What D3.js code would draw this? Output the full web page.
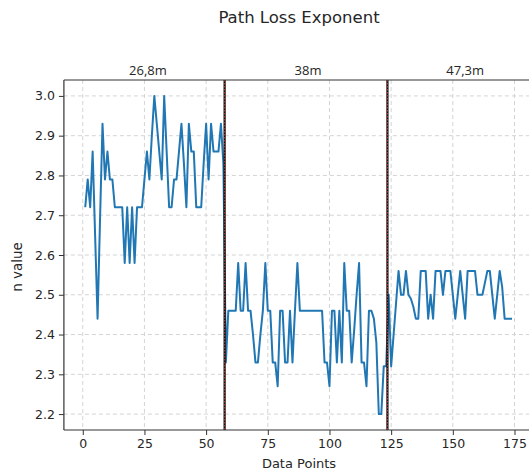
<!DOCTYPE html>
<html>
<head>
<meta charset="utf-8">
<script src="https://cdn.jsdelivr.net/npm/d3@7"></script>
<style>
  html, body { margin: 0; padding: 0; background: #fff; }
  svg { display: block; }
</style>
</head>
<body>
<svg id="chart" width="529" height="470"></svg>
<script>
// ---- data ----
const segmentLabels = ["26,8m", "38m", "47,3m"];
const segmentLabelAt = [26.4, 91.3, 155];
const segmentBounds = [57.5, 123.5];
const xTickValues = [0, 25, 50, 75, 100, 125, 150, 175];
const yTickValues = [2.2, 2.3, 2.4, 2.5, 2.6, 2.7, 2.8, 2.9, 3.0];
const nValues = [
  // 1..57  (26,8m)
  2.72, 2.79, 2.72, 2.86, 2.65, 2.44, 2.69, 2.93, 2.79, 2.86,
  2.79, 2.79, 2.72, 2.72, 2.72, 2.72, 2.58, 2.72, 2.58, 2.72,
  2.58, 2.72, 2.72, 2.72, 2.79, 2.86, 2.79, 2.90, 3.00, 2.93,
  2.86, 2.79, 3.00, 2.86, 2.72, 2.72, 2.79, 2.79, 2.86, 2.93,
  2.83, 2.72, 2.93, 2.86, 2.86, 2.72, 2.72, 2.72, 2.83, 2.93,
  2.79, 2.93, 2.86, 2.86, 2.86, 2.93, 2.83,
  // 58..123 (38m)
  2.33, 2.46, 2.46, 2.46, 2.46, 2.58, 2.46, 2.46, 2.58, 2.46,
  2.46, 2.40, 2.33, 2.33, 2.40, 2.46, 2.58, 2.46, 2.46, 2.33,
  2.33, 2.27, 2.46, 2.46, 2.33, 2.33, 2.46, 2.33, 2.46, 2.58,
  2.46, 2.46, 2.46, 2.46, 2.46, 2.46, 2.46, 2.46, 2.46, 2.46,
  2.33, 2.33, 2.27, 2.46, 2.46, 2.33, 2.46, 2.33, 2.58, 2.46,
  2.46, 2.33, 2.41, 2.50, 2.58, 2.33, 2.33, 2.27, 2.46, 2.46,
  2.44, 2.38, 2.20, 2.20, 2.32, 2.32,
  // 124..174 (47,3m)
  2.50, 2.32, 2.40, 2.48, 2.56, 2.50, 2.50, 2.56, 2.50, 2.49,
  2.47, 2.44, 2.44, 2.56, 2.56, 2.56, 2.44, 2.50, 2.44, 2.56,
  2.56, 2.56, 2.50, 2.56, 2.56, 2.56, 2.50, 2.44, 2.50, 2.56,
  2.50, 2.44, 2.56, 2.56, 2.56, 2.56, 2.50, 2.50, 2.50, 2.53,
  2.56, 2.56, 2.50, 2.44, 2.50, 2.56, 2.52, 2.44, 2.44, 2.44,
  2.44
];
const points = nValues.map((v, i) => ({ x: i + 1, y: v }));

// ---- layout ----
const svg = d3.select("#chart");
const plotLeft = 63.9, plotTop = 80, plotBottom = 430;
const xExt = d3.extent(points, d => d.x);
const xPad = (xExt[1] - xExt[0]) * 0.05;
const yExt = d3.extent(points, d => d.y);
const yPad = (yExt[1] - yExt[0]) * 0.05;
const pxPerUnit = 2.467;
const plotRight = plotLeft + (xExt[1] - xExt[0] + 2 * xPad) * pxPerUnit;

const x = d3.scaleLinear().domain([xExt[0] - xPad, xExt[1] + xPad]).range([plotLeft, plotRight]);
const y = d3.scaleLinear().domain([yExt[0] - yPad, yExt[1] + yPad]).range([plotBottom, plotTop]);

const font = "DejaVu Sans, sans-serif";
const textColor = "#262626";

// grid
const grid = svg.append("g");
grid.selectAll("line.gx").data(xTickValues).join("line")
  .attr("x1", d => x(d)).attr("x2", d => x(d))
  .attr("y1", plotTop).attr("y2", plotBottom)
  .attr("stroke", "#cfcfcf").attr("stroke-width", 0.9).attr("stroke-dasharray", "4,3");
grid.selectAll("line.gy").data(yTickValues).join("line")
  .attr("x1", plotLeft).attr("x2", plotRight)
  .attr("y1", d => y(d)).attr("y2", d => y(d))
  .attr("stroke", "#cfcfcf").attr("stroke-width", 0.9).attr("stroke-dasharray", "4,3");

// line
const line = d3.line().x(d => x(d.x)).y(d => y(d.y));
svg.append("path").datum(points)
  .attr("d", line)
  .attr("fill", "none")
  .attr("stroke", "#2077b4")
  .attr("stroke-width", 2)
  .attr("stroke-linejoin", "round");

// segment boundaries
segmentBounds.forEach(b => {
  svg.append("line").attr("x1", x(b)).attr("x2", x(b)).attr("y1", plotTop).attr("y2", plotBottom)
    .attr("stroke", "#111").attr("stroke-width", 2.2);
  svg.append("line").attr("x1", x(b)).attr("x2", x(b)).attr("y1", plotTop).attr("y2", plotBottom)
    .attr("stroke", "#c0392b").attr("stroke-width", 1).attr("stroke-dasharray", "1.5,1.5");
});

// axes
const xAxis = d3.axisBottom(x).tickValues(xTickValues).tickSize(5).tickPadding(4).tickFormat(d3.format("d"));
const yAxis = d3.axisLeft(y).tickValues(yTickValues).tickSize(5).tickPadding(4).tickFormat(d3.format(".1f"));

const gx = svg.append("g").attr("transform", `translate(0,${plotBottom})`).call(xAxis);
const gy = svg.append("g").attr("transform", `translate(${plotLeft},0)`).call(yAxis);
[gx, gy].forEach(g => {
  g.select(".domain").remove();
  g.selectAll(".tick line").attr("stroke", "#333").attr("stroke-width", 1);
  g.selectAll(".tick text").attr("fill", textColor).style("font-family", font).style("font-size", "12.5px");
});

// spines (right spine falls outside the visible frame)
const spines = svg.append("g").attr("stroke", "#333").attr("stroke-width", 1.2);
spines.append("line").attr("x1", plotLeft).attr("x2", plotLeft).attr("y1", plotTop).attr("y2", plotBottom);
spines.append("line").attr("x1", plotLeft).attr("x2", plotRight).attr("y1", plotTop).attr("y2", plotTop);
spines.append("line").attr("x1", plotLeft).attr("x2", plotRight).attr("y1", plotBottom).attr("y2", plotBottom);

// labels
svg.append("text").attr("x", 299).attr("y", 23).attr("text-anchor", "middle")
  .attr("fill", textColor).style("font-family", font).style("font-size", "16.5px")
  .text("Path Loss Exponent");

svg.append("text").attr("x", 299).attr("y", 468).attr("text-anchor", "middle")
  .attr("fill", textColor).style("font-family", font).style("font-size", "13px")
  .text("Data Points");

svg.append("text").attr("transform", "translate(22,267) rotate(-90)").attr("text-anchor", "middle")
  .attr("fill", textColor).style("font-family", font).style("font-size", "13.5px")
  .text("n value");

svg.selectAll("text.seg").data(segmentLabels).join("text")
  .attr("class", "seg")
  .attr("x", (d, i) => x(segmentLabelAt[i]))
  .attr("y", 75)
  .attr("text-anchor", "middle")
  .attr("fill", textColor)
  .style("font-family", "Open Sans, sans-serif").style("font-size", "13px")
  .text(d => d);
</script>
</body>
</html>
